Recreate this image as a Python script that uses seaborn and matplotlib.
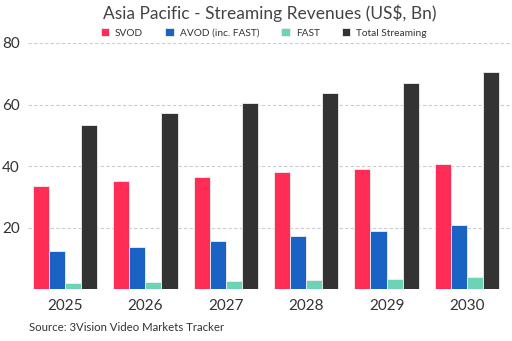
import matplotlib
matplotlib.use("Agg")
import matplotlib.pyplot as plt
import seaborn as sns
import pandas as pd

years = ["2025", "2026", "2027", "2028", "2029", "2030"]
svod = [33.4, 35.0, 36.5, 38.0, 39.0, 40.6]
avod = [12.3, 13.7, 15.5, 17.2, 18.9, 20.8]
fast = [1.9, 2.3, 2.6, 3.0, 3.4, 3.9]
total = [53.3, 57.1, 60.4, 63.6, 66.9, 70.5]
series = ["SVOD", "AVOD (inc. FAST)", "FAST", "Total Streaming"]
colors = ["#FF2D55", "#1A62C4", "#6DD3B7", "#333333"]

rows = []
for name, vals in zip(series, [svod, avod, fast, total]):
    for y, v in zip(years, vals):
        rows.append({"Year": y, "Series": name, "Value": v})
df = pd.DataFrame(rows)

sns.set_style("white")
plt.rcParams["font.family"] = ["Lato", "DejaVu Sans"]

fig = plt.figure(figsize=(5.12, 3.41), dpi=100)
ax = fig.add_axes([28 / 512, 0.152, 484 / 512, 0.722])
sns.barplot(data=df, x="Year", y="Value", hue="Series", hue_order=series,
            palette=colors, width=0.8, ax=ax, edgecolor="#f0f0f0", linewidth=0.6,
            saturation=1)
ax.set_ylim(0, 80)
ax.set_xlim(-0.46, 5.56)
ax.set_yticks([20, 40, 60, 80])
ax.set_yticklabels(["20", "40", "60", "80"])
for y in [0, 20, 40, 60, 80]:
    ax.axhline(y, color="#cccccc", linestyle=(0, (3, 2)), linewidth=0.8, zorder=0)
ax.tick_params(axis="y", length=0, labelsize=11, colors="#333333", pad=0)
for lbl in ax.get_yticklabels():
    lbl.set_horizontalalignment("left")
    lbl.set_x(-0.054)
ax.tick_params(axis="x", length=0, labelsize=11, colors="#333333", pad=7)
ax.set_xlabel("")
ax.set_ylabel("")
for s in ax.spines.values():
    s.set_visible(False)

ax.legend(loc="upper center", bbox_to_anchor=(0.487, 1.097), ncol=4, frameon=False,
          fontsize=7.3, handlelength=0.8, handleheight=0.8, columnspacing=2.2,
          handletextpad=0.6, labelcolor="#333333")
fig.text(0.527, 0.962, "Asia Pacific - Streaming Revenues (US$, Bn)", ha="center", va="center",
         fontsize=12.5, color="#444444")
fig.text(0.057, 0.04, "Source: 3Vision Video Markets Tracker", ha="left", va="center",
         fontsize=8.2, color="#333333")
fig.savefig("out.png", dpi=100)
